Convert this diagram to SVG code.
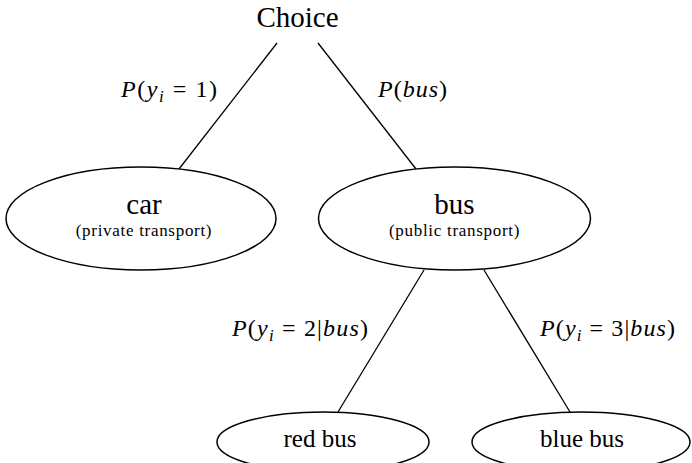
<svg xmlns="http://www.w3.org/2000/svg" width="692" height="463" viewBox="0 0 692 463" font-family="'Liberation Serif', 'Times New Roman', 'DejaVu Serif', serif">
<style>
.node{fill:#fff;stroke:#000;stroke-width:1.5}
.edge{stroke:#000;stroke-width:1.3;fill:none}
.t{fill:#000;text-anchor:middle}
.big{font-size:29px}
.mid{font-size:25px}
.small{font-size:17px;letter-spacing:0.7px}
.m{font-size:24px;fill:#000}
.it{font-style:italic}
.sub{font-size:17px;font-style:italic}
</style>
<rect width="692" height="463" fill="#fff"/>
<g id="connectors">
<line class="edge" x1="277" y1="43" x2="179" y2="169"/>
<line class="edge" x1="318" y1="43" x2="416" y2="169"/>
<line class="edge" x1="424" y1="270" x2="338" y2="412"/>
<line class="edge" x1="484" y1="270" x2="570" y2="412"/>
<text class="m" x="121" y="97" textLength="96" lengthAdjust="spacing"><tspan class="it">P</tspan>(<tspan class="it">y</tspan><tspan class="sub" dy="5">i</tspan><tspan dy="-5"> = 1)</tspan></text>
<text class="m" x="378" y="97" textLength="69" lengthAdjust="spacing"><tspan class="it">P</tspan>(<tspan class="it">bus</tspan>)</text>
<text class="m" x="232" y="336" textLength="136" lengthAdjust="spacing"><tspan class="it">P</tspan>(<tspan class="it">y</tspan><tspan class="sub" dy="5">i</tspan><tspan dy="-5"> = 2|</tspan><tspan class="it">bus</tspan>)</text>
<text class="m" x="540" y="336" textLength="135" lengthAdjust="spacing"><tspan class="it">P</tspan>(<tspan class="it">y</tspan><tspan class="sub" dy="5">i</tspan><tspan dy="-5"> = 3|</tspan><tspan class="it">bus</tspan>)</text>
</g>
<g id="choice">
<text class="t big" x="297.5" y="27">Choice</text>
</g>
<g id="car">
<ellipse class="node" cx="141" cy="218.5" rx="135" ry="51.5"/>
<text class="t big" x="144" y="214">car</text>
<text class="t small" x="144" y="236">(private transport)</text>
</g>
<g id="bus">
<ellipse class="node" cx="454.5" cy="218.5" rx="136" ry="51.5"/>
<text class="t big" x="454.5" y="214">bus</text>
<text class="t small" x="454.5" y="236">(public transport)</text>
</g>
<g id="redbus">
<ellipse class="node" cx="323" cy="442" rx="106" ry="30"/>
<text class="t mid" x="320" y="447">red bus</text>
</g>
<g id="bluebus">
<ellipse class="node" cx="581" cy="442" rx="109" ry="30"/>
<text class="t mid" x="582" y="447">blue bus</text>
</g>
</svg>
